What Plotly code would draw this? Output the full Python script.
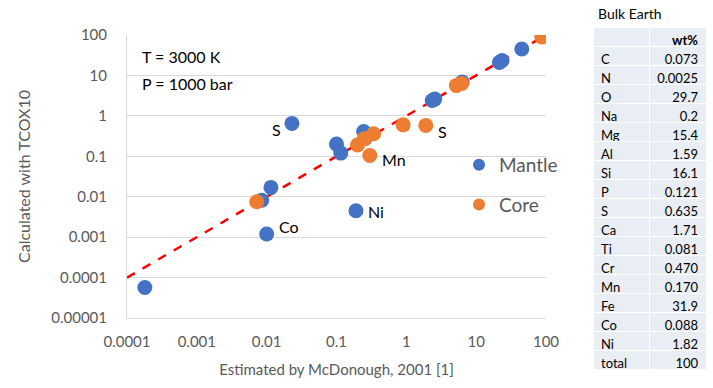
import numpy as np
import plotly.graph_objects as go

# ---- data ----
mantle_x = [0.00018, 0.01, 0.0085, 0.0115, 0.023, 0.1, 0.115, 0.245, 0.26, 0.19, 2.35, 2.55, 6.3, 21.5, 23.5, 45]
mantle_y = [0.000057, 0.0012, 0.0082, 0.017, 0.65, 0.2, 0.12, 0.41, 0.28, 0.0045, 2.4, 2.6, 6.9, 21, 23.5, 45]
core_x = [0.0072, 0.3, 0.2, 0.25, 0.34, 0.9, 1.9, 5.2, 6.2, 87]
core_y = [0.0075, 0.105, 0.19, 0.27, 0.36, 0.6, 0.58, 5.6, 6.3, 89]
line_x = [0.0001, 100]
line_y = [0.0001, 100]

# point labels attached to data points
label_text = ["S", "Co", "Ni", "Mn", "S"]
label_x = [0.023, 0.01, 0.19, 0.3, 1.9]
label_y = [0.65, 0.0012, 0.0045, 0.105, 0.58]
# placement of each label relative to its point (style only)
label_side = ["left", "right", "right", "right", "right"]
label_dy = [-6, 7, -1, -4, -6]

x_tickvals = [0.0001, 0.001, 0.01, 0.1, 1, 10, 100]
x_ticktext = ["0.0001", "0.001", "0.01", "0.1", "1", "10", "100"]
y_tickvals = [0.00001, 0.0001, 0.001, 0.01, 0.1, 1, 10, 100]
y_ticktext = ["0.00001", "0.0001", "0.001", "0.01", "0.1", "1", "10", "100"]

table_header = ["", "wt%"]
elements = ["C", "N", "O", "Na", "Mg", "Al", "Si", "P", "S", "Ca", "Ti", "Cr", "Mn", "Fe", "Co", "Ni", "total"]
wt_pct = ["0.073", "0.0025", "29.7", "0.2", "15.4", "1.59", "16.1", "0.121", "0.635", "1.71",
          "0.081", "0.470", "0.170", "31.9", "0.088", "1.82", "100"]

# ---- layout geometry (pixels) ----
W, H = 713, 388
ml, mr, mt, mb = 127, 2, 2, 2
pw, ph = W - ml - mr, H - mt - mb
def px_x(p): return (p - ml) / pw
def px_y(p): return (H - mb - p) / ph

FONT = "Lato, Open Sans, sans-serif"
GRAY = "#595959"
BLUE = "#4472C4"
ORANGE = "#ED7D31"

fig = go.Figure()
fig.add_trace(go.Scatter(x=line_x, y=line_y, mode="lines",
                         line=dict(color="#FF0000", width=2.5, dash="dash"),
                         showlegend=False, hoverinfo="skip"))
fig.add_trace(go.Scatter(x=mantle_x, y=mantle_y, mode="markers", name="Mantle",
                         marker=dict(color=BLUE, size=15), legendgroup="m"))
fig.add_trace(go.Scatter(x=core_x, y=core_y, mode="markers", name="Core",
                         marker=dict(color=ORANGE, size=15), legendgroup="c"))

fig.add_trace(go.Table(
    domain=dict(x=[px_x(593), px_x(706)], y=[px_y(384), px_y(27)]),
    columnwidth=[56, 57],
    header=dict(values=table_header, height=19, align=["left", "right"],
                fill_color="#E9EDF4", line=dict(color="white", width=1),
                font=dict(family=FONT, size=13, color="black", weight="bold")),
    cells=dict(values=[elements, wt_pct], height=19, align=["left", "right"],
               fill_color="#E9EDF4", line=dict(color="white", width=1),
               font=dict(family=FONT, size=13, color="black")),
))

annotations = []
for txt, x, y, side, dy in zip(label_text, label_x, label_y, label_side, label_dy):
    annotations.append(dict(x=np.log10(x), y=np.log10(y), xref="x", yref="y", text=txt,
                            showarrow=False, font=dict(family=FONT, size=16, color="black"),
                            xanchor="right" if side == "left" else "left",
                            xshift=-9 if side == "left" else 10, yshift=dy))
annotations.append(dict(x=px_x(140), y=px_y(57), xref="paper", yref="paper", text="T = 3000 K",
                        showarrow=False, xanchor="left", yanchor="middle",
                        font=dict(family=FONT, size=16, color="black")))
annotations.append(dict(x=px_x(140), y=px_y(83), xref="paper", yref="paper", text="P = 1000 bar",
                        showarrow=False, xanchor="left", yanchor="middle",
                        font=dict(family=FONT, size=16, color="black")))
annotations.append(dict(x=px_x(596), y=px_y(13), xref="paper", yref="paper", text="Bulk Earth",
                        showarrow=False, xanchor="left", yanchor="middle",
                        font=dict(family=FONT, size=14, color="black")))

fig.update_layout(
    width=W, height=H,
    margin=dict(l=ml, r=mr, t=mt, b=mb, autoexpand=False),
    paper_bgcolor="white", plot_bgcolor="white",
    font=dict(family=FONT, color=GRAY),
    xaxis=dict(type="log", domain=[0, px_x(546)], range=[-4, 2], automargin=False,
               tickvals=x_tickvals, ticktext=x_ticktext, tickfont=dict(size=15, color=GRAY),
               showgrid=False, showline=True, linecolor="#D9D9D9", linewidth=1,
               ticks="", zeroline=False, anchor="y", ticklabelstandoff=10,
               title=dict(text="Estimated by McDonough, 2001 [1]", font=dict(size=15, color=GRAY), standoff=15)),
    yaxis=dict(type="log", domain=[px_y(318), px_y(35)], range=[-5, 2], automargin=False,
               tickvals=y_tickvals, ticktext=y_ticktext, tickfont=dict(size=15, color=GRAY),
               showgrid=True, gridcolor="#D9D9D9", gridwidth=1, ticklabelstandoff=16,
               showline=True, linecolor="#D9D9D9", linewidth=1, ticks="", zeroline=False,
               title=dict(text="Calculated with TCOX10", font=dict(size=16, color=GRAY), standoff=16)),
    legend=dict(x=px_x(459), y=px_y(146), xanchor="left", yanchor="top",
                font=dict(family=FONT, size=19, color=GRAY), bgcolor="rgba(0,0,0,0)",
                traceorder="grouped", tracegroupgap=12, itemsizing="constant"),
    annotations=annotations,
    showlegend=True,
)

fig.write_html("out.html", config={"displayModeBar": False},
               post_script="document.body.style.margin='0px';")
